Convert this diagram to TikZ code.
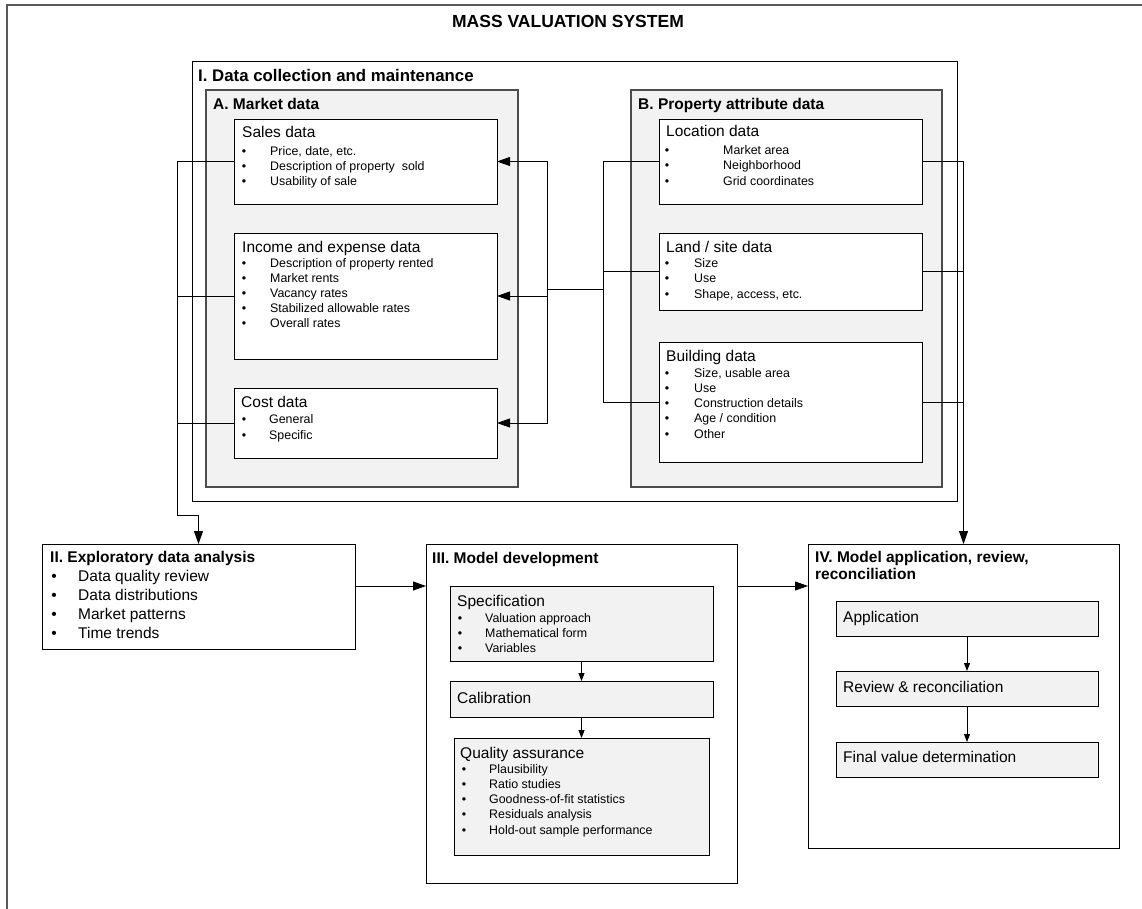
\documentclass[tikz,border=0pt]{standalone}
\usepackage{fontspec}
\setmainfont{Liberation Sans}
\usetikzlibrary{arrows.meta,calc}
\newcommand\bulletlist[7]{%
  \foreach \t [count=\i] in {#7} {
    \node[#6] (#1-\i) at (#3, {#4+(\i-1)*#5}) {\t};
    \node[#6, anchor=center] (#1-b\i) at (#2, {#4+(\i-1)*#5}) {\textbullet};
  }}
\begin{document}
\begin{tikzpicture}[x=1pt,y=-1pt,
  frame/.style={draw=black!65, line width=1.4pt},
  panel/.style={draw=black!70, line width=1.2pt, fill=black!5, anchor=north west, inner sep=0, outer sep=0},
  bigbox/.style={draw=black, line width=1pt, anchor=north west, inner sep=0, outer sep=0},
  wbox/.style={draw=black, line width=0.9pt, fill=white, anchor=north west, inner sep=0, outer sep=0},
  gbox/.style={draw=black, line width=0.9pt, fill=black!5, anchor=north west, inner sep=0, outer sep=0},
  ttl/.style={font=\fontsize{17.5}{20}\selectfont\bfseries, inner sep=0},
  sec/.style={font=\fontsize{15.5}{18}\selectfont\bfseries, anchor=west, inner sep=0, text height=11pt, text depth=3pt},
  hd/.style={font=\fontsize{15.5}{18}\selectfont, anchor=west, inner sep=0, text height=11pt, text depth=3pt},
  it/.style={font=\fontsize{12.4}{14}\selectfont, anchor=west, inner sep=0, text height=9pt, text depth=2.6pt},
  itb/.style={font=\fontsize{15.5}{18}\selectfont, anchor=west, inner sep=0, text height=11pt, text depth=3pt},
  line/.style={draw=black, line width=0.9pt},
  arr/.style={line, -{Triangle[length=13pt,width=9pt]}},
  sarr/.style={line, -{Triangle[length=8pt,width=6pt]}}
]
\useasboundingbox (0,0) rectangle (1142,909);
\fill[white] (0,0) rectangle (1142,909);

% outer frame (cropped)
\draw[frame] (7,909) -- (7,5) -- (1142,5);
\node[ttl] (title) at (568,21) {MASS VALUATION SYSTEM};

% I. Data collection
\node[bigbox, minimum width=765pt, minimum height=439pt] (I) at (192,62) {};
\node[sec, font=\fontsize{16.8}{19}\selectfont\bfseries] (Ilab) at (198,78) {I. Data collection and maintenance};

% A. Market data
\node[panel, minimum width=312pt, minimum height=397pt] (A) at (206,90) {};
\node[sec] (Alab) at (213,106) {A. Market data};
\node[wbox, minimum width=263pt, minimum height=85pt] (sales) at (234,119) {};
\node[hd] (salesT) at (242,134) {Sales data};
\bulletlist{sl}{244}{270}{152}{15}{it}{{Price, date, etc.},{Description of property~ sold},{Usability of sale}}
\node[wbox, minimum width=263pt, minimum height=126pt] (income) at (234,233) {};
\node[hd] (incomeT) at (242,248) {Income and expense data};
\bulletlist{in}{244}{270}{264}{15}{it}{{Description of property rented},{Market rents},{Vacancy rates},{Stabilized allowable rates},{Overall rates}}
\node[wbox, minimum width=263pt, minimum height=70pt] (cost) at (234,388) {};
\node[hd] (costT) at (241,403) {Cost data};
\bulletlist{co}{244}{269}{420}{16}{it}{{General},{Specific}}

% B. Property attribute data
\node[panel, minimum width=311pt, minimum height=397pt] (B) at (631,90) {};
\node[sec] (Blab) at (638,106) {B. Property attribute data};
\node[wbox, minimum width=263pt, minimum height=85pt] (location) at (659,119) {};
\node[hd] (locationT) at (666,133) {Location data};
\bulletlist{lo}{667}{723}{151}{15.5}{it}{{Market area},{Neighborhood},{Grid coordinates}}
\node[wbox, minimum width=263pt, minimum height=77pt] (land) at (659,233) {};
\node[hd] (landT) at (666,248) {Land / site data};
\bulletlist{la}{667}{694}{264}{15.5}{it}{{Size},{Use},{Shape, access, etc.}}
\node[wbox, minimum width=263pt, minimum height=120pt] (building) at (659,342) {};
\node[hd] (buildingT) at (666,357) {Building data};
\bulletlist{bu}{667}{694}{374}{15.25}{it}{{Size, usable area},{Use},{Construction details},{Age / condition},{Other}}

% II. Exploratory data analysis
\node[bigbox, minimum width=313pt, minimum height=105pt, fill=white] (II) at (42,544) {};
\node[sec] (IIlab) at (50,558) {II. Exploratory data analysis};
\bulletlist{ea}{54}{78}{577}{19}{itb}{{Data quality review},{Data distributions},{Market patterns},{Time trends}}

% III. Model development
\node[bigbox, minimum width=311pt, minimum height=339pt, fill=white] (III) at (426,544) {};
\node[sec] (IIIlab) at (432,559) {III. Model development};
\node[gbox, minimum width=263pt, minimum height=75pt] (spec) at (450,586) {};
\node[hd] (specT) at (457,602) {Specification};
\bulletlist{sp}{460}{485}{619}{15}{it}{{Valuation approach},{Mathematical form},{Variables}}
\node[gbox, minimum width=263pt, minimum height=36pt] (calib) at (450,681) {};
\node[hd] (calibT) at (457,699) {Calibration};
\node[gbox, minimum width=255pt, minimum height=117pt] (qual) at (454,738) {};
\node[hd] (qualT) at (460,754) {Quality assurance};
\bulletlist{qa}{464}{489}{770}{15.25}{it}{{Plausibility},{Ratio studies},{Goodness-of-fit statistics},{Residuals analysis},{Hold-out sample performance}}

% IV. Model application
\node[bigbox, minimum width=311pt, minimum height=304pt, fill=white] (IV) at (808,544) {};
\node[font=\fontsize{15.5}{17}\selectfont\bfseries, anchor=north west, inner sep=0, align=left] (IVlab) at (815,551) {IV. Model application, review,\\reconciliation};
\node[gbox, minimum width=262pt, minimum height=35pt] (app) at (836,601) {};
\node[hd] (appT) at (843,618) {Application};
\node[gbox, minimum width=262pt, minimum height=35pt] (review) at (836,671) {};
\node[hd] (reviewT) at (843,688) {Review \& reconciliation};
\node[gbox, minimum width=262pt, minimum height=35pt] (final) at (836,742) {};
\node[hd] (finalT) at (843,758) {Final value determination};

% connectors
\coordinate (bl) at (177,515);
\draw[arr] (sales.west) -| (bl) -| (II.north);
\draw[line] (income.west) -- (income.west -| bl);
\draw[line] (cost.west) -- (cost.west -| bl);

\coordinate (bm) at (547,289);
\coordinate (bp) at (603,289);
\draw[arr] (bm) |- (sales.east);
\draw[arr] (income.east -| bm) -- (income.east);
\draw[arr] (bm) |- (cost.east);
\draw[line] (bm |- sales.east) -- (bm |- cost.east);
\draw[line] (bm) -- (bp);
\draw[line] (bp) |- (location.west);
\draw[line] (bp) |- (land.west);
\draw[line] (bp) |- (building.west);

\draw[arr] (location.east) -| (IV.north);
\draw[line] (land.east) -- (land.east -| IV.north);
\draw[line] (building.east) -- (building.east -| IV.north);

\coordinate (lvl) at (0,586);
\draw[arr] (II.east |- lvl) -- (III.west |- lvl);
\draw[arr] (III.east |- lvl) -- (IV.west |- lvl);

\draw[sarr] (spec.south) -- (calib.north);
\draw[sarr] (calib.south) -- (qual.north);
\draw[sarr] (app.south) -- (review.north);
\draw[sarr] (review.south) -- (final.north);
\end{tikzpicture}
\end{document}
